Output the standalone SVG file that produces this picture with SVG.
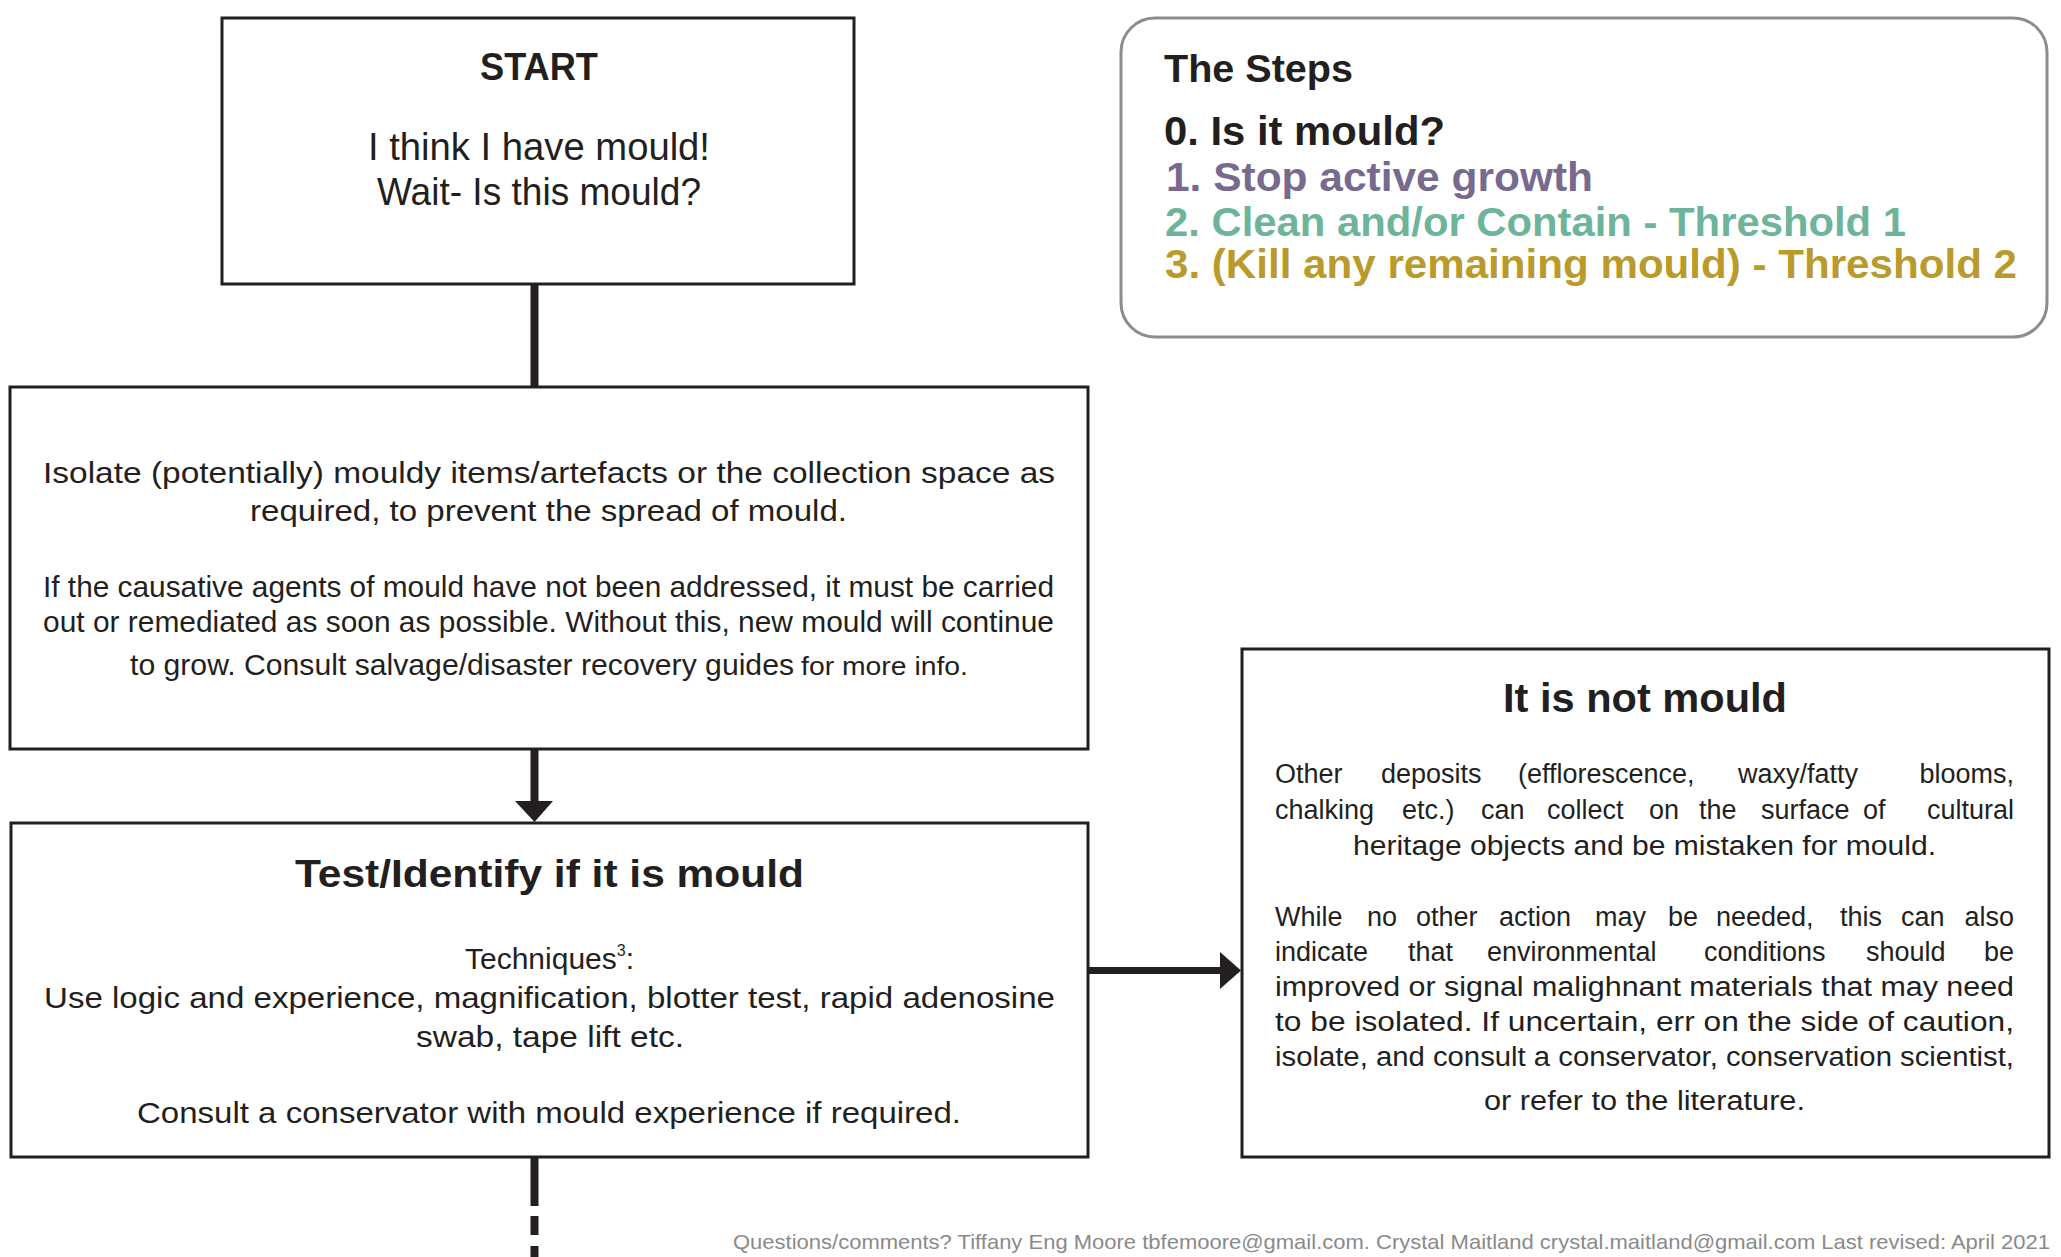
<svg xmlns="http://www.w3.org/2000/svg" width="2061" height="1257" viewBox="0 0 2061 1257">
<style>
.box{fill:#ffffff;stroke:#231f20;stroke-width:3}
.steps{fill:#ffffff;stroke:#8c8c8c;stroke-width:3}
.t{font-family:"Liberation Sans",Arial,sans-serif;fill:#231f20}
.b{font-family:"Liberation Sans",Arial,sans-serif;font-weight:bold;fill:#231f20}
.c{text-anchor:middle}
.e{text-anchor:end}
.conn{stroke:#231f20;fill:none}
.head{fill:#231f20}
</style>
<rect width="2061" height="1257" fill="#ffffff"/>
<g id="connectors">
<line class="conn" x1="534.5" y1="284" x2="534.5" y2="387" stroke-width="8"/>
<line class="conn" x1="534.5" y1="749" x2="534.5" y2="803" stroke-width="8"/>
<polygon class="head" points="515,801 553,801 534.5,822"/>
<line class="conn" x1="1088" y1="970.5" x2="1222" y2="970.5" stroke-width="7"/>
<polygon class="head" points="1220,952 1241,970.5 1220,989"/>
<line class="conn" x1="534.5" y1="1157" x2="534.5" y2="1257" stroke-width="8" stroke-dasharray="49 10 19 11 30"/>
</g>
<g id="start">
<rect class="box" x="222" y="18" width="632" height="266"/>
<text class="b c" x="539" y="80" font-size="38" textLength="118" lengthAdjust="spacingAndGlyphs">START</text>
<text class="t c" x="539" y="160" font-size="38" textLength="342" lengthAdjust="spacingAndGlyphs">I think I have mould!</text>
<text class="t c" x="539" y="205" font-size="38" textLength="324" lengthAdjust="spacingAndGlyphs">Wait- Is this mould?</text>
</g>
<g id="steps">
<rect class="steps" x="1121" y="18" width="926" height="319" rx="34" ry="34"/>
<text class="b" x="1164" y="82" font-size="38" textLength="189" lengthAdjust="spacingAndGlyphs">The Steps</text>
<text class="b" x="1164" y="145" font-size="40" textLength="281" lengthAdjust="spacingAndGlyphs">0. Is it mould?</text>
<text class="b" x="1166" y="191" font-size="40" style="fill:#786a8f" textLength="427" lengthAdjust="spacingAndGlyphs">1. Stop active growth</text>
<text class="b" x="1165" y="236" font-size="40" style="fill:#6db49a" textLength="741" lengthAdjust="spacingAndGlyphs">2. Clean and/or Contain - Threshold 1</text>
<text class="b" x="1165" y="278" font-size="40" style="fill:#b99a2b" textLength="852" lengthAdjust="spacingAndGlyphs">3. (Kill any remaining mould) - Threshold 2</text>
</g>
<g id="isolate">
<rect class="box" x="10" y="387" width="1078" height="362"/>
<text class="t" x="43" y="483" font-size="29" textLength="1012" lengthAdjust="spacingAndGlyphs">Isolate (potentially) mouldy items/artefacts or the collection space as</text>
<text class="t" x="250" y="521" font-size="29" textLength="597" lengthAdjust="spacingAndGlyphs">required, to prevent the spread of mould.</text>
<text class="t" x="43" y="597" font-size="29" textLength="1011" lengthAdjust="spacingAndGlyphs">If the causative agents of mould have not been addressed, it must be carried</text>
<text class="t" x="43" y="632" font-size="29" textLength="1011" lengthAdjust="spacingAndGlyphs">out or remediated as soon as possible. Without this, new mould will continue</text>
<text class="t" x="130" y="675" font-size="29" textLength="664" lengthAdjust="spacingAndGlyphs">to grow. Consult salvage/disaster recovery guides</text>
<text class="t" x="801" y="675" font-size="26" textLength="167" lengthAdjust="spacingAndGlyphs">for more info.</text>
</g>
<g id="test">
<rect class="box" x="11" y="823" width="1077" height="334"/>
<text class="b c" x="549.5" y="887" font-size="38" textLength="509" lengthAdjust="spacingAndGlyphs">Test/Identify if it is mould</text>
<text class="t c" x="549.5" y="969" font-size="30">Techniques<tspan font-size="16" dy="-13">3</tspan><tspan dy="13">:</tspan></text>
<text class="t" x="44" y="1008" font-size="30" textLength="1011" lengthAdjust="spacingAndGlyphs">Use logic and experience, magnification, blotter test, rapid adenosine</text>
<text class="t c" x="550" y="1047" font-size="30" textLength="268" lengthAdjust="spacingAndGlyphs">swab, tape lift etc.</text>
<text class="t c" x="549" y="1123" font-size="30" textLength="824" lengthAdjust="spacingAndGlyphs">Consult a conservator with mould experience if required.</text>
</g>
<g id="not-mould">
<rect class="box" x="1242" y="649" width="807" height="508"/>
<text class="b c" x="1645" y="712" font-size="40" textLength="284" lengthAdjust="spacingAndGlyphs">It is not mould</text>
<g font-size="27">
<text class="t" x="1275" y="783">Other</text>
<text class="t" x="1381" y="783">deposits</text>
<text class="t" x="1518" y="783">(efflorescence,</text>
<text class="t" x="1738" y="783">waxy/fatty</text>
<text class="t e" x="2014" y="783">blooms,</text>
<text class="t" x="1275" y="819">chalking</text>
<text class="t" x="1402" y="819">etc.)</text>
<text class="t" x="1481" y="819">can</text>
<text class="t" x="1547" y="819">collect</text>
<text class="t" x="1649" y="819">on</text>
<text class="t" x="1699" y="819">the</text>
<text class="t" x="1761" y="819">surface</text>
<text class="t" x="1863" y="819">of</text>
<text class="t e" x="2014" y="819">cultural</text>
<text class="t c" x="1644.5" y="855" textLength="583" lengthAdjust="spacingAndGlyphs">heritage objects and be mistaken for mould.</text>
<text class="t" x="1275" y="926">While</text>
<text class="t" x="1367" y="926">no</text>
<text class="t" x="1416" y="926">other</text>
<text class="t" x="1499" y="926">action</text>
<text class="t" x="1595" y="926">may</text>
<text class="t" x="1668" y="926">be</text>
<text class="t" x="1716" y="926">needed,</text>
<text class="t" x="1840" y="926">this</text>
<text class="t" x="1901" y="926">can</text>
<text class="t e" x="2014" y="926">also</text>
<text class="t" x="1275" y="961">indicate</text>
<text class="t" x="1408" y="961">that</text>
<text class="t" x="1487" y="961">environmental</text>
<text class="t" x="1704" y="961">conditions</text>
<text class="t" x="1866" y="961">should</text>
<text class="t e" x="2014" y="961">be</text>
<text class="t" x="1275" y="996" textLength="739" lengthAdjust="spacingAndGlyphs">improved or signal malighnant materials that may need</text>
<text class="t" x="1275" y="1031" textLength="739" lengthAdjust="spacingAndGlyphs">to be isolated. If uncertain, err on the side of caution,</text>
<text class="t" x="1275" y="1066" textLength="739" lengthAdjust="spacingAndGlyphs">isolate, and consult a conservator, conservation scientist,</text>
<text class="t c" x="1644.5" y="1110" textLength="321" lengthAdjust="spacingAndGlyphs">or refer to the literature.</text>
</g>
</g>
<text x="2050" y="1249" font-family="Liberation Sans, Arial, sans-serif" font-size="21" fill="#8a8a8a" text-anchor="end" textLength="1317" lengthAdjust="spacingAndGlyphs">Questions/comments? Tiffany Eng Moore tbfemoore@gmail.com. Crystal Maitland crystal.maitland@gmail.com  Last revised: April 2021</text>
</svg>
